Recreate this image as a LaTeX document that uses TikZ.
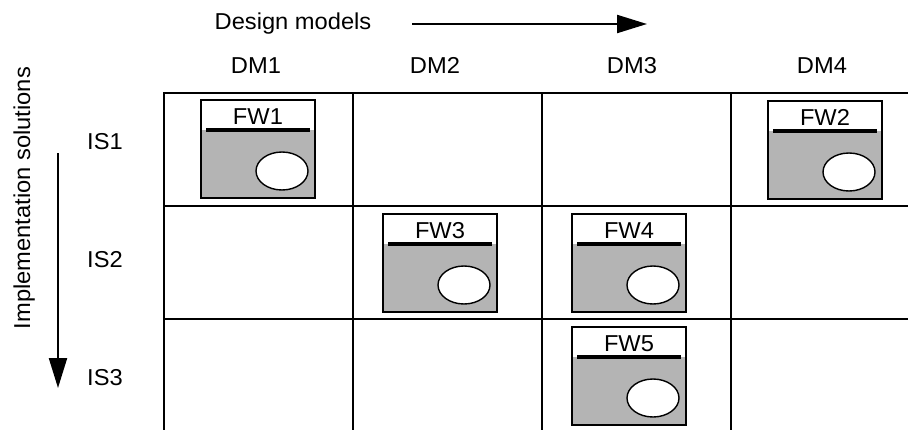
\documentclass[tikz,border=0pt]{standalone}
\usepackage{fontspec}
\setmainfont[FakeStretch=1.03]{Liberation Sans}
\usetikzlibrary{arrows.meta}
\definecolor{fwgray}{RGB}{180,180,180}
\tikzset{
  lbl/.style={font=\fontsize{23}{27}\selectfont, inner sep=0pt, anchor=base},
  gridline/.style={line width=2.6pt},
  fwframe/.style={line width=2.2pt},
  fwbar/.style={line width=4.5pt},
  fwwin/.style={line width=1.4pt, fill=white},
  axisarrow/.style={line width=2.2pt, -{Triangle[length=30pt, width=18pt]}}
}
% one framework box: name, left, top, label
\newcommand\fwbox[4]{%
  \fill[fwgray] (#2,#3+30) rectangle (#2+114,#3+98);
  \draw[fwframe] (#2,#3) rectangle (#2+114,#3+98);
  \draw[fwbar] (#2+5,#3+30) -- (#2+109,#3+30);
  \node[lbl] (#1) at (#2+57,#3+24) {#4};
  \draw[fwwin] (#2+81,#3+71) ellipse [x radius=26pt, y radius=19pt];
}
\begin{document}
\begin{tikzpicture}[x=1pt, y=-1pt]
\useasboundingbox (0,0) rectangle (908,429);
\begin{scope}
\clip (0,0) rectangle (908,429);
% grid
\foreach \y in {93,206,319}
  \draw[gridline] (163,\y) -- (912,\y);
\foreach \x in {164,353,542,731}
  \draw[gridline] (\x,92) -- (\x,433);
\end{scope}

% column headings
\node[lbl] (dm1) at (256,73) {DM1};
\node[lbl] (dm2) at (435,73) {DM2};
\node[lbl] (dm3) at (632,73) {DM3};
\node[lbl] (dm4) at (822,73) {DM4};

% row headings
\node[lbl, anchor=base west] (is1) at (87,149) {IS1};
\node[lbl, anchor=base west] (is2) at (87,267) {IS2};
\node[lbl, anchor=base west] (is3) at (87,385) {IS3};

% axes
\node[lbl] (dmaxis) at (293,29) {Design models};
\coordinate (hstart) at (412,24);
\coordinate (hend) at (647,24);
\draw[axisarrow] (hstart) -- (hend);

\node[lbl, rotate=90] (isaxis) at (30,198) {Implementation solutions};
\coordinate (vstart) at (58,153);
\coordinate (vend) at (58,388);
\draw[axisarrow] (vstart) -- (vend);

% frameworks
\fwbox{fw1}{201}{100}{FW1}
\fwbox{fw2}{768}{101}{FW2}
\fwbox{fw3}{383}{214}{FW3}
\fwbox{fw4}{572}{214}{FW4}
\fwbox{fw5}{572}{327}{FW5}
\end{tikzpicture}
\end{document}
